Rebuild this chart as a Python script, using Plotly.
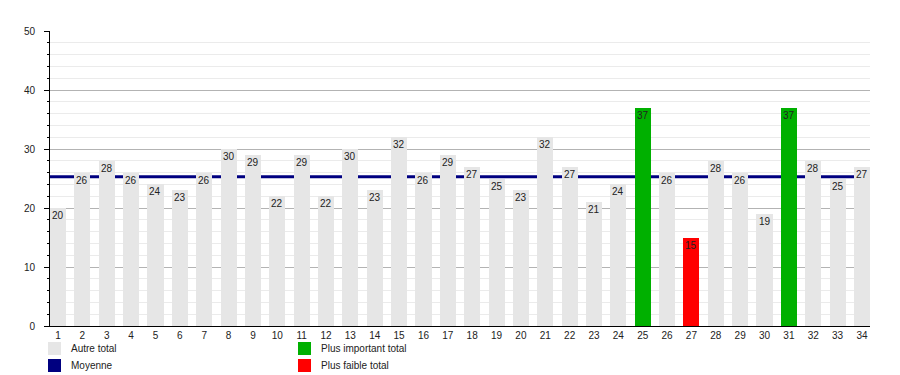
import plotly.graph_objects as go

categories = list(range(1, 35))
values = [20, 26, 28, 26, 24, 23, 26, 30, 29, 22, 29, 22, 30, 23, 32, 26, 29, 27,
          25, 23, 32, 27, 21, 24, 37, 26, 15, 28, 26, 19, 37, 28, 25, 27]
mean_value = 25.3
y_ticks = [0, 10, 20, 30, 40, 50]

GRAY = "#e6e6e6"
GREEN = "#00b000"
RED = "#ff0000"
NAVY = "#000080"

vmax, vmin = max(values), min(values)
colors = [GREEN if v == vmax else RED if v == vmin else GRAY for v in values]

FONT = "Liberation Sans, Arial, sans-serif"

# page adds 8px body margin; figure sized to compensate
OFF = 8
W, H = 900 - OFF, 375 - OFF
L, R, T, B = 50 - OFF, 30, 31 - OFF, 49
PW, PH = W - L - R, H - T - B

fig = go.Figure()
fig.add_trace(go.Bar(x=categories, y=values, width=0.66, marker=dict(color=colors, line=dict(width=0)),
                     hoverinfo="skip", showlegend=False))

for c, v in zip(categories, values):
    fig.add_annotation(x=c, y=v, xref="x", yref="y", text=str(v), showarrow=False,
                       yanchor="middle", xanchor="center", yshift=-7.5,
                       font=dict(size=10, color="#222", family=FONT))

fig.add_shape(type="line", xref="paper", x0=0, x1=1, yref="y", y0=mean_value, y1=mean_value,
              line=dict(color=NAVY, width=3), layer="between")

# legend drawn manually (page pixel positions)
legend_items = [("Autre total", GRAY, 48, 342), ("Moyenne", NAVY, 48, 359),
                ("Plus important total", GREEN, 298, 342), ("Plus faible total", RED, 298, 359)]
for label, col, px, py in legend_items:
    fx, fy = px - OFF, py - OFF
    fig.add_shape(type="rect", xref="paper", yref="paper",
                  x0=(fx - L) / PW, x1=(fx + 13 - L) / PW,
                  y0=(T + PH - fy - 13) / PH, y1=(T + PH - fy) / PH,
                  fillcolor=col, line=dict(width=0))
    fig.add_annotation(xref="paper", yref="paper", x=(fx + 21 - L) / PW, y=(T + PH - fy - 6.5) / PH,
                       text=label, showarrow=False, xanchor="left", yanchor="middle",
                       font=dict(size=10, color="#222", family=FONT))

fig.update_layout(
    width=W, height=H,
    margin=dict(l=L, r=R, t=T, b=B),
    plot_bgcolor="white", paper_bgcolor="white",
    font=dict(family=FONT, size=10, color="#222"),
    bargap=0,
    xaxis=dict(range=[0.67, 34.33], tickvals=categories, ticktext=[str(c) for c in categories],
               showgrid=False, zeroline=False, showline=True, linecolor="black", linewidth=1,
               ticks="", tickfont=dict(size=10, color="#222")),
    yaxis=dict(range=[0, 50], tickvals=y_ticks, showgrid=True, gridcolor="#b3b3b3", gridwidth=1,
               zeroline=False, showline=True, linecolor="black", linewidth=1,
               ticks="outside", ticklen=5, tickcolor="black", ticklabelstandoff=7,
               tickfont=dict(size=10, color="#222"),
               minor=dict(dtick=2, showgrid=True, gridcolor="#ebebeb", ticks="outside", ticklen=2,
                          tickcolor="black")),
)

fig.write_html("out.html")
